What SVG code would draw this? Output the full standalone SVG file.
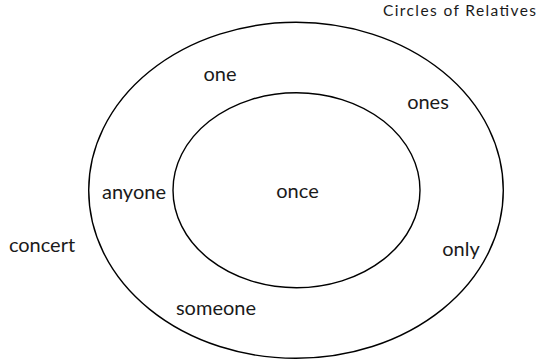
<svg xmlns="http://www.w3.org/2000/svg" width="540" height="360" viewBox="0 0 540 360">
<style>
.ring{fill:none;stroke:#000;stroke-width:1.4}
.lbl{font-family:Lato,"Noto Sans",sans-serif;font-size:20px;fill:#1a1a1a;text-anchor:middle}
.title{font-family:Lato,"Noto Sans",sans-serif;font-size:15.5px;fill:#1a1a1a}
</style>
<rect width="540" height="360" fill="#fff"/>
<text class="title" x="383" y="15.5" textLength="153" lengthAdjust="spacing">Circles of Relatives</text>
<g id="outer">
<ellipse class="ring" cx="296" cy="190.3" rx="207.3" ry="168"/>
</g>
<g id="inner">
<ellipse class="ring" cx="296.5" cy="190.2" rx="123.5" ry="97.5"/>
<text class="lbl" x="297.5" y="198">once</text>
</g>
<g id="connectors"></g>
<g id="n-one"><text class="lbl" x="220" y="81">one</text></g>
<g id="n-ones"><text class="lbl" x="428" y="109">ones</text></g>
<g id="n-anyone"><text class="lbl" x="134" y="199">anyone</text></g>
<g id="n-only"><text class="lbl" x="461" y="256">only</text></g>
<g id="n-someone"><text class="lbl" x="216" y="315">someone</text></g>
<g id="n-concert"><text class="lbl" x="42" y="252">concert</text></g>
</svg>
